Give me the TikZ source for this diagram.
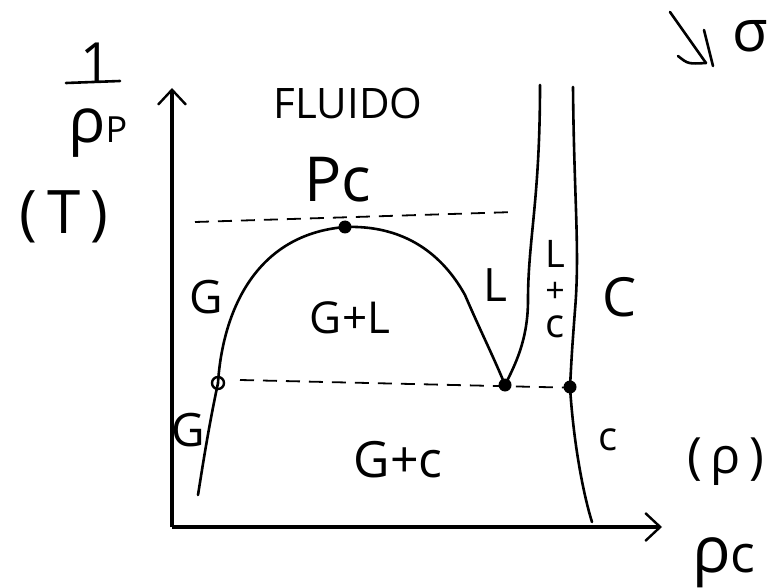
\documentclass[tikz,border=0pt]{standalone}
\usepackage{fontspec}
\setmainfont{Open Sans}
\usetikzlibrary{arrows.meta}
\begin{document}
\begin{tikzpicture}[x=1pt,y=-1pt,
  curve/.style={line width=2.6pt,line cap=round,line join=round},
  axis/.style={line width=4pt,-{Straight Barb[length=15pt,width=28pt,line width=2.4pt]}},
  dashln/.style={line width=1.8pt,dash pattern=on 14pt off 9pt},
  lab/.style={inner sep=0pt,font=\fontsize{44}{50}\selectfont},
  biglab/.style={inner sep=0pt,font=\fontsize{54}{60}\selectfont},
  dotf/.style={circle,fill=black,minimum size=13pt,inner sep=0pt},
  doto/.style={circle,draw=black,line width=2.4pt,minimum size=12pt,inner sep=0pt}]
\useasboundingbox (0,0) rectangle (771,588);
% axes
\coordinate (O) at (172,527);
\coordinate (ytop) at (172,88);
\coordinate (xend) at (662,527);
\draw[axis] (O) -- (ytop);
\draw[axis] (O) -- (xend);
% axis labels
\node[biglab] (one) at (96,62) {1};
\coordinate (barL) at (66,83);
\coordinate (barR) at (120,81);
\draw[curve] (barL) -- (barR);
\node[biglab,anchor=base west,font=\fontsize{62}{66}\selectfont] (rhoP) at (68,143) {ρ\fontsize{36}{40}\selectfont P};
\node[biglab,font=\fontsize{60}{66}\selectfont] (T) at (64,217) {(\,T\,)};
\node[biglab,anchor=base west,font=\fontsize{64}{70}\selectfont] (rhoc) at (692,572) {ρ\fontsize{52}{56}\selectfont c};
\node[lab,font=\fontsize{50}{56}\selectfont] (rho) at (726,462) {(\,ρ\,)};
% top right symbol
\coordinate (s1) at (670,12);
\coordinate (s2) at (706,63);
\coordinate (s3) at (678,56);
\coordinate (s4) at (704,30);
\coordinate (s5) at (713,66);
\draw[curve] (s1) -- (s2);
\draw[curve] (s3) .. controls (688,64) .. (s2);
\draw[curve] (s4) -- (s5);
\node[biglab,font=\fontsize{58}{62}\selectfont] (sigma) at (750,36) {σ};
% points
\node[dotf] (Pc) at (345,227) {};
\node[dotf] (L1) at (505,385) {};
\node[dotf] (S1) at (570,387) {};
\node[doto] (G1) at (218,383) {};
\coordinate (Gbot) at (198,495);
\coordinate (topL) at (540,85);
\coordinate (topR) at (573,87);
\coordinate (Cbot) at (592,522);
% dashed lines
\coordinate (d1) at (195,222);
\coordinate (d2) at (515,212);
\coordinate (d3) at (240,380);
\coordinate (d4) at (582,388);
\draw[dashln] (d1) -- (d2);
\draw[dashln] (d3) -- (d4);
% coexistence dome
\draw[curve] (G1.center) .. controls (222,320) and (250,235) .. (Pc.center)
  .. controls (400,225) and (440,250) .. (465,295)
  .. controls (480,330) and (495,360) .. (L1.center);
\draw[curve] (G1.center) .. controls (208,430) and (202,470) .. (Gbot);
% strip lines
\draw[curve] (topL) .. controls (540,200) and (528,240) .. (528,300)
  .. controls (528,340) and (515,365) .. (L1.center);
\draw[curve] (topR) .. controls (574,200) and (580,250) .. (575,310)
  .. controls (572,350) .. (S1.center)
  .. controls (574,450) and (585,500) .. (Cbot);
% region labels
\node[lab,font=\fontsize{42}{48}\selectfont] (fluido) at (348,103) {FLUIDO};
\node[biglab,font=\fontsize{62}{66}\selectfont] (pclab) at (338,180) {Pc};
\node[lab,font=\fontsize{46}{50}\selectfont] (Gup) at (206,297) {G};
\node[lab] (GL) at (350,318) {G+L};
\node[lab,font=\fontsize{46}{50}\selectfont] (Llab) at (495,285) {L};
\node[lab,font=\fontsize{38}{42}\selectfont] (Ls) at (555,254) {L};
\node[lab,font=\fontsize{34}{38}\selectfont] (plus) at (555,292) {+};
\node[lab,font=\fontsize{40}{44}\selectfont] (cs) at (555,327) {c};
\node[biglab] (Cl) at (620,297) {C};
\node[lab,font=\fontsize{46}{50}\selectfont] (Glow) at (188,430) {G};
\node[biglab,font=\fontsize{50}{56}\selectfont] (Gc) at (398,460) {G+c};
\node[lab,font=\fontsize{40}{44}\selectfont] (clow) at (608,440) {c};
\end{tikzpicture}
\end{document}
